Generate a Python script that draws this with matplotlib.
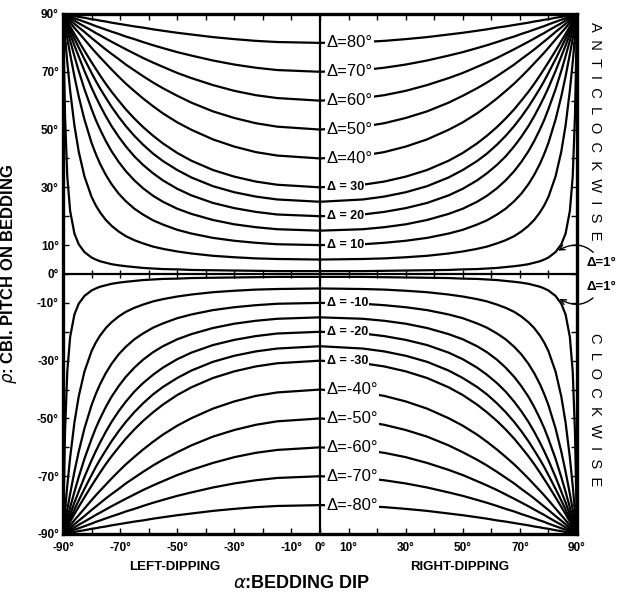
import numpy as np
import matplotlib.pyplot as plt

plt.rcParams['font.family'] = ['Liberation Sans', 'DejaVu Sans']
plt.rcParams['mathtext.fontset'] = 'dejavusans'

# bedding dip (right half; left half is the mirror image)
alpha_half = [0, 15, 22.5, 30, 37.5, 45, 50, 55, 58.5, 62, 65, 68, 70.5, 73, 75, 77, 78.5,
              80, 82.5, 84.5, 86, 87.5, 88.5, 89.3, 90]

# CBL pitch rho for each Delta (upper half, lower half has opposite sign)
deltas = [1, 5, 10, 15, 20, 25, 30, 40, 50, 60, 70, 80]
rho_d1 = [1.0, 1.0, 1.1, 1.2, 1.3, 1.4, 1.6, 1.7, 1.9, 2.1, 2.4, 2.7, 3.0, 3.4, 3.9, 4.4, 5.0,
          5.7, 7.6, 10.3, 14.0, 21.8, 33.7, 55.0, 90]
rho_d5 = [5.0, 5.2, 5.4, 5.8, 6.3, 7.1, 7.8, 8.7, 9.5, 10.6, 11.7, 13.1, 14.7, 16.7, 18.7, 21.3, 23.7,
          26.7, 33.8, 42.4, 51.4, 63.5, 73.3, 82.1, 90]
rho_d10 = [10.0, 10.3, 10.8, 11.5, 12.5, 14.0, 15.3, 17.1, 18.6, 20.6, 22.6, 25.2, 27.8, 31.1, 34.3, 38.1, 41.5,
           45.4, 53.5, 61.5, 68.4, 76.1, 81.5, 86.0, 90]
rho_d15 = [15.0, 15.5, 16.2, 17.2, 18.7, 20.8, 22.6, 25.0, 27.1, 29.7, 32.4, 35.6, 38.8, 42.5, 46.0, 50.0, 53.3,
           57.1, 64.0, 70.3, 75.4, 80.8, 84.4, 87.4, 90]
rho_d20 = [20.0, 20.6, 21.5, 22.8, 24.6, 27.2, 29.5, 32.4, 34.9, 37.8, 40.7, 44.2, 47.5, 51.2, 54.6, 58.3, 61.3,
           64.5, 70.3, 75.3, 79.1, 83.2, 85.9, 88.1, 90]
rho_d25 = [25.0, 25.8, 26.8, 28.3, 30.4, 33.4, 36.0, 39.1, 41.7, 44.8, 47.8, 51.2, 54.4, 57.9, 61.0, 64.2, 66.8,
           69.6, 74.4, 78.4, 81.5, 84.7, 86.8, 88.5, 90]
rho_d30 = [30.0, 30.9, 32.0, 33.7, 36.0, 39.2, 41.9, 45.2, 47.9, 50.9, 53.8, 57.0, 60.0, 63.1, 65.8, 68.7, 71.0,
           73.3, 77.3, 80.6, 83.1, 85.7, 87.4, 88.8, 90]
rho_d40 = [40.0, 41.0, 42.2, 44.1, 46.6, 49.9, 52.5, 55.6, 58.1, 60.8, 63.3, 65.9, 68.3, 70.8, 72.9, 75.0, 76.6,
           78.3, 81.2, 83.5, 85.2, 87.0, 88.2, 89.2, 90]
rho_d50 = [50.0, 51.0, 52.2, 54.0, 56.3, 59.3, 61.7, 64.3, 66.3, 68.5, 70.5, 72.5, 74.4, 76.2, 77.7, 79.3, 80.5,
           81.7, 83.8, 85.4, 86.6, 87.9, 88.7, 89.4, 90]
rho_d60 = [60.0, 60.9, 61.9, 63.4, 65.4, 67.8, 69.6, 71.7, 73.2, 74.8, 76.3, 77.8, 79.1, 80.4, 81.5, 82.6, 83.4,
           84.3, 85.7, 86.8, 87.7, 88.6, 89.1, 89.6, 90]
rho_d70 = [70.0, 70.6, 71.4, 72.5, 73.9, 75.6, 76.8, 78.2, 79.2, 80.3, 81.3, 82.2, 83.1, 83.9, 84.6, 85.3, 85.8,
           86.4, 87.3, 88.0, 88.5, 89.1, 89.5, 89.7, 90]
rho_d80 = [80.0, 80.3, 80.7, 81.3, 82.0, 82.9, 83.5, 84.2, 84.7, 85.3, 85.7, 86.2, 86.6, 87.0, 87.4, 87.7, 88.0,
           88.2, 88.7, 89.0, 89.3, 89.6, 89.7, 89.9, 90]
curves = [rho_d1, rho_d5, rho_d10, rho_d15, rho_d20, rho_d25,
          rho_d30, rho_d40, rho_d50, rho_d60, rho_d70, rho_d80]

# labels written on the curves at the centre line
big_labels = [80, 70, 60, 50, 40, -40, -50, -60, -70, -80]
small_labels = [30, 20, 10, -10, -20, -30]

x_ticks = [-90, -70, -50, -30, -10, 0, 10, 30, 50, 70, 90]
y_ticks = [90, 70, 50, 30, 10, 0, -10, -30, -50, -70, -90]
minor_ticks = [-80, -60, -40, -20, 20, 40, 60, 80]

fig = plt.figure(figsize=(6.24, 5.93), dpi=100)
ax = fig.add_axes([63 / 624, 1 - 534 / 593, 514 / 624, 520 / 593])

a = np.array(alpha_half)
alpha_full = np.concatenate([-a[::-1], a[1:]])
for rho in curves:
    r = np.array(rho)
    r_full = np.concatenate([r[::-1], r[1:]])
    ax.plot(alpha_full, r_full, color='black', lw=1.6, zorder=2, solid_joinstyle='round')
    ax.plot(alpha_full, -r_full, color='black', lw=1.6, zorder=2, solid_joinstyle='round')

ax.axvline(0, color='black', lw=1.6, zorder=3)
ax.axhline(0, color='black', lw=1.6, zorder=3)
tens = np.arange(-80, 90, 10)
ax.plot(tens, np.zeros(len(tens)), ls='none', marker='|', ms=6, mew=1.0, color='black', zorder=3)

ax.set_xlim(-90, 90)
ax.set_ylim(-90, 90)
for sp in ax.spines.values():
    sp.set_linewidth(2.4)

ax.set_xticks(x_ticks)
ax.set_xticklabels([f"{v}°" for v in x_ticks], fontweight='bold')
ax.set_yticks(y_ticks)
ax.set_yticklabels([f"{v}°" for v in y_ticks], fontweight='bold')
ax.set_xticks(minor_ticks, minor=True)
ax.set_yticks(minor_ticks, minor=True)
ax.tick_params(which='both', direction='in', top=True, right=True, length=4, width=1)
ax.tick_params(axis='x', labelsize=8.5, pad=6)
ax.tick_params(axis='y', labelsize=8.5, pad=3)

box = dict(facecolor='white', edgecolor='none', pad=0.8)
for d in big_labels:
    ax.text(2.3, d, f"Δ={d}°", fontsize=12, ha='left', va='center', bbox=box, zorder=4)
for d in small_labels:
    ax.text(2.3, d, f"Δ = {d}", fontsize=9, fontweight='bold', ha='left', va='center', bbox=box, zorder=4)

# Delta = 1 callouts on the right
ax.annotate("Δ=1°", xy=(82.5, 7.6), xytext=(93.5, 3.8), fontsize=9.5, fontweight='bold',
            ha='left', va='center', annotation_clip=False,
            arrowprops=dict(arrowstyle='->', lw=1, connectionstyle='arc3,rad=0.5'))
ax.annotate("Δ=1°", xy=(83.0, -8.1), xytext=(93.5, -4.6), fontsize=9.5, fontweight='bold',
            ha='left', va='center', annotation_clip=False,
            arrowprops=dict(arrowstyle='->', lw=1, connectionstyle='arc3,rad=-0.5'))

ax.text(1.035, 0.774, "A  N  T  I  C  L  O  C  K  W  I  S  E", transform=ax.transAxes,
        rotation=-90, ha='center', va='center', fontsize=10.5)
ax.text(1.035, 0.240, "C  L  O  C  K  W  I  S  E", transform=ax.transAxes,
        rotation=-90, ha='center', va='center', fontsize=10.5)

ax.text(0.218, -0.0635, "LEFT-DIPPING", transform=ax.transAxes, ha='center', va='center',
        fontsize=9.5, fontweight='bold')
ax.text(0.772, -0.0635, "RIGHT-DIPPING", transform=ax.transAxes, ha='center', va='center',
        fontsize=9.5, fontweight='bold')

ax.set_xlabel(r"$\alpha$:BEDDING DIP", fontsize=13, fontweight='bold')
ax.xaxis.set_label_coords(0.465, -0.078)
ax.set_ylabel(r"$\rho$: CBI. PITCH ON BEDDING", fontsize=12, fontweight='bold')
ax.yaxis.set_label_coords(-0.085, 0.5)

fig.savefig("out.png", dpi=100)
